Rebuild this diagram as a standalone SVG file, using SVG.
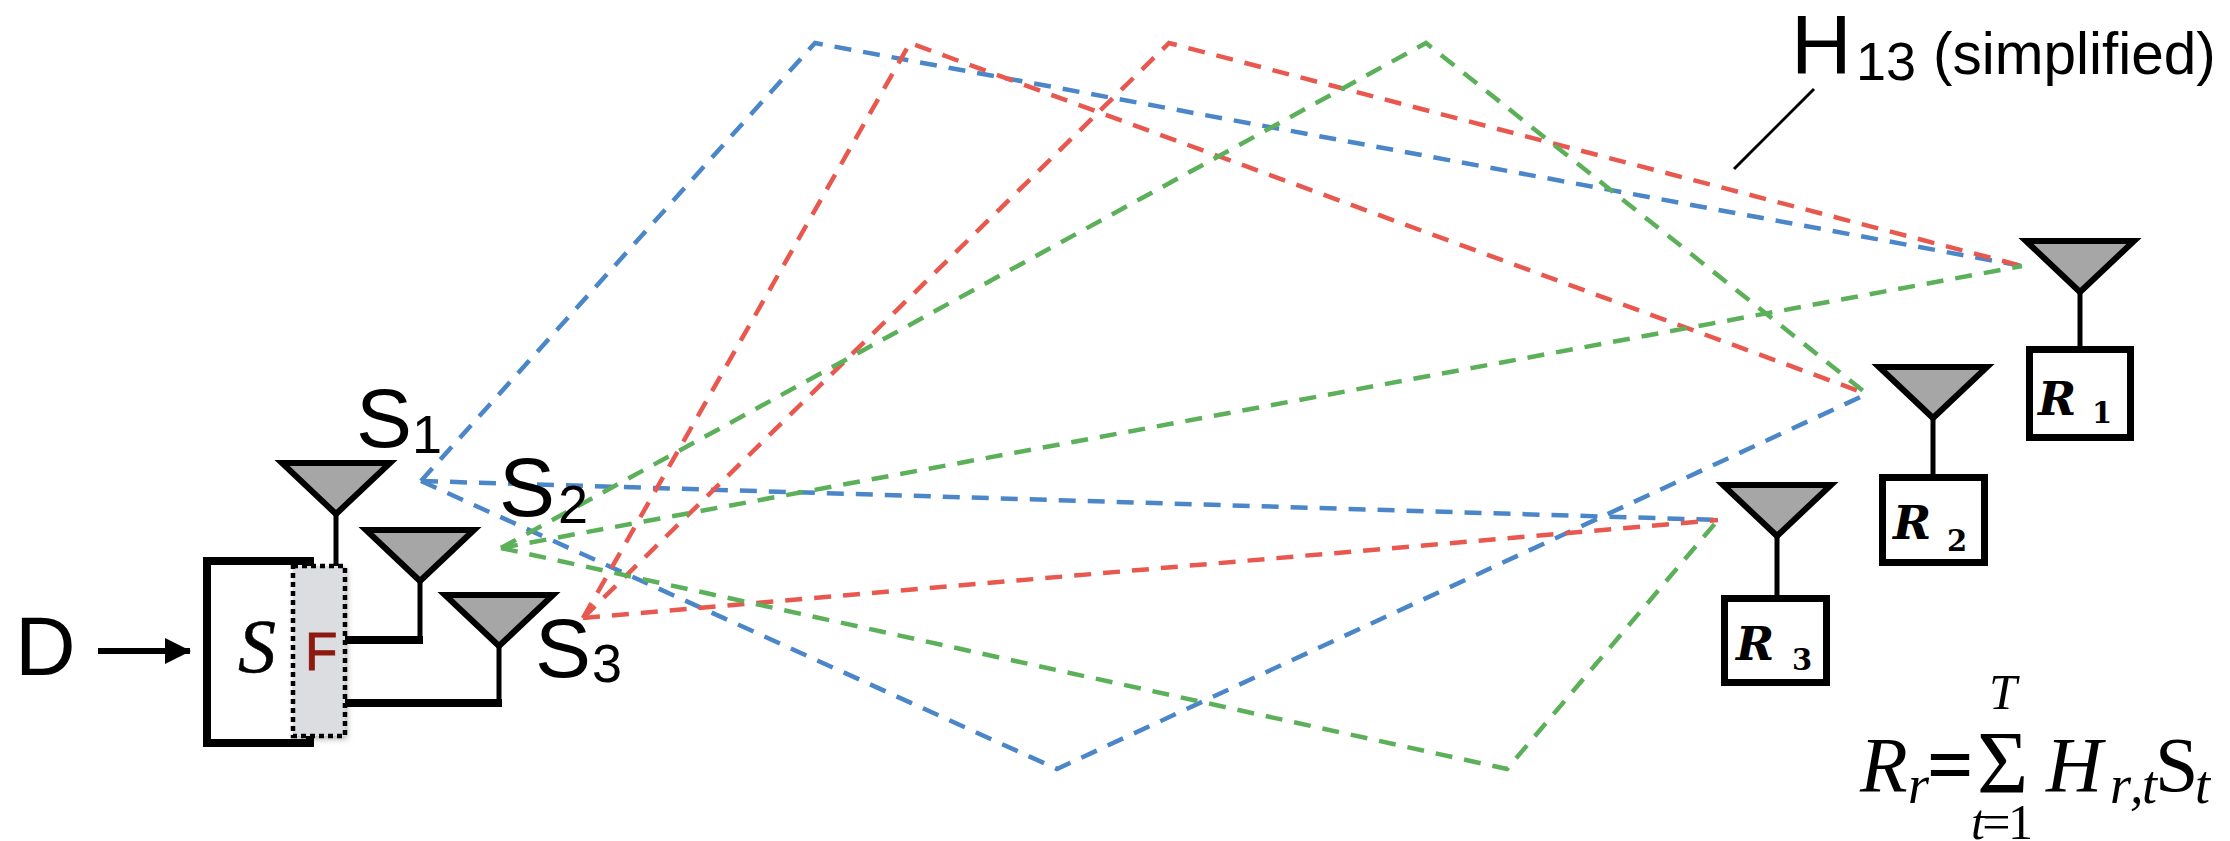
<svg xmlns="http://www.w3.org/2000/svg" width="2230" height="841" viewBox="0 0 2230 841">
<style>
.sans{font-family:"Liberation Sans",Arial,sans-serif;fill:#000}
.ser{font-family:"Liberation Serif","Times New Roman",serif;fill:#000}
.cm{font-family:"DejaVu Serif","Liberation Serif",serif;fill:#000}
.it{font-style:italic}
.big{font-size:84px}
.sub{font-size:54px}
.rl{font-size:46px;font-style:italic;font-weight:bold}
.rs{font-size:29px;font-weight:bold}
.f{font-size:78px}
.fs{font-size:54px}
.lim{font-size:50px}
.ln{fill:none;stroke-width:4.500;stroke-dasharray:17 12;stroke-linejoin:miter}
.b{stroke:#4a86c8}.r{stroke:#e8584f}.g{stroke:#5cb05a}
.stem{stroke:#000;stroke-width:5;fill:none}
.feed{stroke:#000;stroke-width:8;fill:none}
.box{fill:#fff;stroke:#000;stroke-width:7}
</style>
<defs>
<polygon id="ant" points="-54,3 54,3 0,54" fill="#a6a6a6" stroke="#000" stroke-width="6"/>
<marker id="ah" markerUnits="userSpaceOnUse" markerWidth="26" markerHeight="26" refX="25" refY="13" orient="auto"><path d="M0,0L26,13L0,26Z" fill="#000"/></marker>
<filter id="sh" x="-20%" y="-10%" width="140%" height="120%"><feDropShadow dx="2" dy="3" stdDeviation="3" flood-color="#000" flood-opacity="0.3"/></filter>
</defs>
<g id="connectors">
<polyline class="ln b" points="421,481 815,43 2022,266"/>
<polyline class="ln b" points="421,481 1718,520"/>
<polyline class="ln b" points="421,481 1057,769 1867,394"/>
<polyline class="ln r" points="583,618 910,43 1867,394"/>
<polyline class="ln r" points="583,618 1169,43 2022,266"/>
<polyline class="ln r" points="583,618 1718,520"/>
<polyline class="ln g" points="501,548 1426,43 1867,394"/>
<polyline class="ln g" points="501,548 2022,266"/>
<polyline class="ln g" points="501,548 1507,769 1718,520"/>
<line x1="1814" y1="89" x2="1734" y2="169" stroke="#000" stroke-width="3"/>
<line x1="98" y1="651" x2="190" y2="651" stroke="#000" stroke-width="6" marker-end="url(#ah)"/>
</g>
<g id="source">
<path class="stem" d="M336,515V570"/>
<path class="stem" d="M420,582V640"/>
<path class="stem" d="M499,645V703"/>
<path class="feed" d="M340,640H423"/>
<path class="feed" d="M340,703H502"/>
<rect class="box" x="207" y="561" width="103" height="182" style="stroke-width:8"/>
<text class="ser it" x="238" y="672" font-size="76" stroke="#000" stroke-width=".5">S</text>
<rect x="293" y="566" width="52" height="170" fill="#dcdde0" filter="url(#sh)"/>
<rect x="293" y="566" width="52" height="170" fill="none" stroke="#000" stroke-width="4.500" stroke-dasharray="5 4"/>
<text class="sans" x="305" y="670" font-size="53" style="fill:#8b1a10;stroke:#8b1a10;stroke-width:1">F</text>
</g>
<g id="S1"><use href="#ant" x="336" y="460"/>
<text class="sans big" x="356" y="447">S</text><text class="sans sub" x="412" y="453">1</text></g>
<g id="S2"><use href="#ant" x="420" y="527"/>
<text class="sans big" x="499" y="516">S</text><text class="sans sub" x="558" y="523">2</text></g>
<g id="S3"><use href="#ant" x="499" y="592"/>
<text class="sans big" x="535" y="677">S</text><text class="sans sub" x="592" y="682">3</text></g>
<g id="D"><text class="sans big" x="15" y="675">D</text></g>
<g id="R1"><use href="#ant" x="2080" y="238"/><path class="stem" d="M2080,290V347"/>
<rect class="box" x="2029.500" y="349.500" width="101" height="88"/>
<text class="cm rl" x="2038" y="415">R</text><text class="cm rs" x="2092" y="423">1</text></g>
<g id="R2"><use href="#ant" x="1933" y="364"/><path class="stem" d="M1933,416V475"/>
<rect class="box" x="1882.500" y="477.500" width="102" height="85"/>
<text class="cm rl" x="1893" y="539">R</text><text class="cm rs" x="1947" y="551">2</text></g>
<g id="R3"><use href="#ant" x="1777" y="482"/><path class="stem" d="M1777,534V596"/>
<rect class="box" x="1724.500" y="598.500" width="102" height="84"/>
<text class="cm rl" x="1736" y="660">R</text><text class="cm rs" x="1792" y="670">3</text></g>
<g id="H13">
<text class="sans big" x="1791" y="74">H</text>
<text class="sans sub" x="1856" y="80">13</text>
<text class="sans" x="1933" y="74" font-size="58.500">(simplified)</text>
</g>
<g id="formula">
<text class="ser it f" x="1860" y="791">R</text>
<text class="ser it fs" x="1908" y="803">r</text>
<text class="ser f" x="1928" y="791" stroke="#000" stroke-width="2">=</text>
<text class="ser" x="1977" y="792" font-size="88">Σ</text>
<text class="ser it lim" x="1989" y="709">T</text>
<text class="ser lim" x="1971" y="839" textLength="62" lengthAdjust="spacing"><tspan class="it">t</tspan>=1</text>
<text class="ser it f" x="2046" y="791">H</text>
<text class="ser it fs" x="2110" y="803">r</text>
<text class="ser it fs" x="2130" y="803">,</text>
<text class="ser it fs" x="2142" y="803">t</text>
<text class="ser f" x="2155" y="791">S</text>
<text class="ser it fs" x="2195" y="803">t</text>
</g>
</svg>
